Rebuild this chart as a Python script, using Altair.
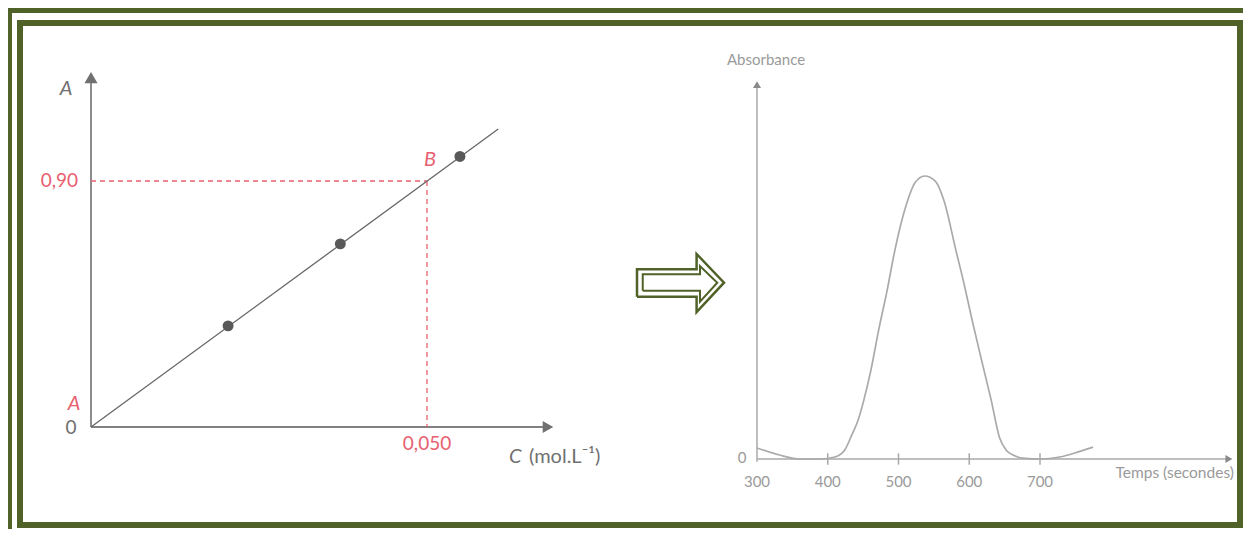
import altair as alt
import pandas as pd

# ---------------- data ----------------
# Left panel: calibration line A = f(C)
cal_C = [0.0204, 0.0371, 0.0549]
cal_A = [0.37, 0.67, 0.99]
line_C = [0.0, 0.0606]
line_A = [0.0, 1.09]
B_C = 0.050
B_A = 0.90
left_xmax = 0.068
left_ymax = 1.278

# Right panel: absorbance vs time (seconds)
t_vals = [300, 332, 361, 389, 410, 424, 434, 443, 451, 461, 472, 484, 495, 511, 523,
          537, 552, 564, 581, 593, 604, 618, 631, 643, 652, 662, 679, 700, 728, 754, 775]
abs_vals = [0.039, 0.014, 0.0, 0.0, 0.007, 0.032, 0.085, 0.138, 0.208, 0.314, 0.456,
            0.597, 0.739, 0.898, 0.975, 1.0, 0.982, 0.915, 0.739, 0.615, 0.491, 0.343,
            0.208, 0.074, 0.032, 0.014, 0.002, 0.0, 0.007, 0.025, 0.042]
right_ticks = [300, 400, 500, 600, 700]
right_xmax = 967
right_ymax = 1.323

# Middle arrow outline (normalised shape)
arrow_out_u = [0, 0.685, 0.685, 1.0, 0.685, 0.685, 0, 0]
arrow_out_v = [0.264, 0.264, 0.0, 0.505, 1.0, 0.736, 0.736, 0.264]
arrow_in_u = [0.066, 0.724, 0.724, 0.923, 0.724, 0.724, 0.066, 0.066]
arrow_in_v = [0.367, 0.367, 0.178, 0.505, 0.793, 0.65, 0.65, 0.367]

# ---------------- styling ----------------
GREEN = "#506228"
RED = "#e8606f"
GREY = "#707070"
LGREY = "#a8a8a8"
FONT = "Lato"

LX = alt.Scale(domain=[0, 0.05], range=[83, 419], nice=False, zero=False)
LY = alt.Scale(domain=[0, 0.9], range=[419, 173], nice=False, zero=False)
RX = alt.Scale(domain=[300, 700], range=[749, 1032], nice=False, zero=False)
RY = alt.Scale(domain=[0, 1], range=[451, 168], nice=False, zero=False)
AU = alt.Scale(domain=[0, 1], range=[629, 716], nice=False, zero=False)
AV = alt.Scale(domain=[0, 1], range=[304, 246], nice=False, zero=False)


def lx(f="C"):
    return alt.X(f, type="quantitative", scale=LX, axis=None)


def ly(f="A"):
    return alt.Y(f, type="quantitative", scale=LY, axis=None)


def rx(f="t"):
    return alt.X(f, type="quantitative", scale=RX, axis=None)


def ry(f="a"):
    return alt.Y(f, type="quantitative", scale=RY, axis=None)


one = pd.DataFrame({"k": [0]})

# ---------------- frame ----------------
outer_top = alt.Chart(one).mark_rect(color=GREEN).encode(
    x=alt.value(0), x2=alt.value(1235), y=alt.value(0), y2=alt.value(5))
outer_left = alt.Chart(one).mark_rect(color=GREEN).encode(
    x=alt.value(0), x2=alt.value(4), y=alt.value(0), y2=alt.value(521))
inner = alt.Chart(one).mark_rect(fillOpacity=0, stroke=GREEN, strokeWidth=6).encode(
    x=alt.value(12), x2=alt.value(1232), y=alt.value(15), y2=alt.value(517))

# ---------------- left panel ----------------
yaxis_l = alt.Chart(pd.DataFrame({"C": [0, 0], "A": [0, left_ymax]})).mark_line(
    color="#808080", strokeWidth=1.8).encode(x=lx(), y=ly())
xaxis_l = alt.Chart(pd.DataFrame({"C": [0, left_xmax], "A": [0, 0]})).mark_line(
    color="#808080", strokeWidth=1.8).encode(x=lx(), y=ly())
yarrow_l = alt.Chart(pd.DataFrame({"C": [0], "A": [left_ymax]})).mark_point(
    shape="triangle-up", filled=True, size=170, color=GREY, opacity=1).encode(x=lx(), y=ly())
xarrow_l = alt.Chart(pd.DataFrame({"C": [left_xmax], "A": [0]})).mark_point(
    shape="triangle-right", filled=True, size=150, color=GREY, opacity=1).encode(x=lx(), y=ly())

dash_h = alt.Chart(pd.DataFrame({"C": [0, B_C], "A": [B_A, B_A]})).mark_line(
    color=RED, strokeWidth=1.3, strokeDash=[5, 4]).encode(x=lx(), y=ly())
dash_v = alt.Chart(pd.DataFrame({"C": [B_C, B_C], "A": [B_A, 0]})).mark_line(
    color=RED, strokeWidth=1.3, strokeDash=[5, 4]).encode(x=lx(), y=ly())

cal_line = alt.Chart(pd.DataFrame({"C": line_C, "A": line_A})).mark_line(
    color="#666666", strokeWidth=1.3).encode(x=lx(), y=ly())
cal_pts = alt.Chart(pd.DataFrame({"C": cal_C, "A": cal_A})).mark_circle(
    size=120, color="#595959", opacity=1).encode(x=lx(), y=ly())

pt_df = pd.DataFrame({"C": [B_C], "A": [B_A]})
orig_df = pd.DataFrame({"C": [0.0], "A": [0.0]})
top_df = pd.DataFrame({"C": [0.0], "A": [left_ymax]})
xend_df = pd.DataFrame({"C": [left_xmax], "A": [0.0]})

t_090 = alt.Chart(pt_df).mark_text(text="0,90", align="right", baseline="middle",
                                   dx=-13, fontSize=19, font=FONT, color=RED).encode(
    x=alt.X(datum=0, type="quantitative", scale=LX, axis=None), y=ly())
t_0050 = alt.Chart(pt_df).mark_text(text="0,050", align="center", baseline="middle",
                                    dy=17, fontSize=19, font=FONT, color=RED).encode(
    x=lx(), y=alt.Y(datum=0, type="quantitative", scale=LY, axis=None))
t_B = alt.Chart(pt_df).mark_text(text="B", align="center", baseline="middle", dx=3, dy=-21,
                                 fontSize=20, font=FONT, fontStyle="italic", color=RED).encode(
    x=lx(), y=ly())
t_Ared = alt.Chart(orig_df).mark_text(text="A", align="center", baseline="middle", dx=-17, dy=-23,
                                      fontSize=20, font=FONT, fontStyle="italic", color=RED).encode(
    x=lx(), y=ly())
t_0 = alt.Chart(orig_df).mark_text(text="0", align="center", baseline="middle", dx=-20, dy=1,
                                   fontSize=19, font=FONT, color=GREY).encode(x=lx(), y=ly())
t_Atop = alt.Chart(top_df).mark_text(text="A", align="center", baseline="middle", dx=-25, dy=11,
                                     fontSize=20, font=FONT, fontStyle="italic", color=GREY).encode(
    x=lx(), y=ly())
t_C = alt.Chart(xend_df).mark_text(text="C", align="left", baseline="middle", dx=-39, dy=30,
                                   fontSize=20, font=FONT, fontStyle="italic", color=GREY).encode(
    x=lx(), y=ly())
t_unit = alt.Chart(xend_df).mark_text(text="(mol.L⁻¹)", align="left", baseline="middle", dx=-19, dy=30,
                                      fontSize=20, font=FONT, color=GREY).encode(x=lx(), y=ly())

# ---------------- middle arrow ----------------
arr_out = alt.Chart(pd.DataFrame({"u": arrow_out_u, "v": arrow_out_v,
                                  "i": list(range(len(arrow_out_u)))})).mark_line(
    color=GREEN, strokeWidth=2.5, strokeJoin="miter").encode(
    x=alt.X("u:Q", scale=AU, axis=None), y=alt.Y("v:Q", scale=AV, axis=None), order="i:Q")
arr_in = alt.Chart(pd.DataFrame({"u": arrow_in_u, "v": arrow_in_v,
                                 "i": list(range(len(arrow_in_u)))})).mark_line(
    color=GREEN, strokeWidth=2.0, strokeJoin="miter").encode(
    x=alt.X("u:Q", scale=AU, axis=None), y=alt.Y("v:Q", scale=AV, axis=None), order="i:Q")

# ---------------- right panel ----------------
yaxis_r = alt.Chart(pd.DataFrame({"t": [300, 300], "a": [-0.01, right_ymax]})).mark_line(
    color=LGREY, strokeWidth=1.5).encode(x=rx(), y=ry())
xaxis_r = alt.Chart(pd.DataFrame({"t": [300, right_xmax], "a": [0, 0]})).mark_line(
    color=LGREY, strokeWidth=1.5).encode(x=rx(), y=ry())
yarrow_r = alt.Chart(pd.DataFrame({"t": [300], "a": [right_ymax]})).mark_point(
    shape="triangle-up", filled=True, size=64, color="#8a8a8a", opacity=1).encode(x=rx(), y=ry())
xarrow_r = alt.Chart(pd.DataFrame({"t": [right_xmax], "a": [0]})).mark_point(
    shape="triangle-right", filled=True, size=64, color="#8a8a8a", opacity=1).encode(x=rx(), y=ry())

tick_df = pd.DataFrame({"t": right_ticks[1:]})
ticks_r = alt.Chart(tick_df).mark_rule(color=LGREY, strokeWidth=1.5).encode(
    x=rx(), y=alt.Y(datum=-0.02, type="quantitative", scale=RY, axis=None),
    y2=alt.Y2(datum=0.02))
lab_df = pd.DataFrame({"t": right_ticks, "lab": [str(v) for v in right_ticks]})
labels_r = alt.Chart(lab_df).mark_text(align="center", baseline="middle", dy=23,
                                       fontSize=15, font=FONT, color="#9a9a9a").encode(
    x=rx(), y=alt.Y(datum=0, type="quantitative", scale=RY, axis=None), text="lab:N")
zero_r = alt.Chart(pd.DataFrame({"t": [300], "a": [0]})).mark_text(
    text="0", align="center", baseline="middle", dx=-15, dy=-1,
    fontSize=15, font=FONT, color="#9a9a9a").encode(x=rx(), y=ry())
absorb = alt.Chart(pd.DataFrame({"t": [300], "a": [right_ymax]})).mark_text(
    text="Absorbance", align="center", baseline="middle", dx=9, dy=-25,
    fontSize=15, font=FONT, color="#9a9a9a").encode(x=rx(), y=ry())
temps = alt.Chart(pd.DataFrame({"t": [right_xmax], "a": [0]})).mark_text(
    text="Temps (secondes)", align="right", baseline="middle", dx=5, dy=14,
    fontSize=15.5, font=FONT, color="#9a9a9a").encode(x=rx(), y=ry())

curve = alt.Chart(pd.DataFrame({"t": t_vals, "a": abs_vals})).mark_line(
    color="#aaaaaa", strokeWidth=1.7, interpolate="monotone").encode(x=rx(), y=ry())

chart = alt.layer(
    outer_top, outer_left, inner,
    yaxis_l, xaxis_l, yarrow_l, xarrow_l, dash_h, dash_v, cal_line, cal_pts,
    t_090, t_0050, t_B, t_Ared, t_0, t_Atop, t_C, t_unit,
    arr_out, arr_in,
    yaxis_r, xaxis_r, yarrow_r, xarrow_r, ticks_r, labels_r, zero_r, absorb, temps, curve,
).resolve_scale(x="independent", y="independent").properties(
    width=1235, height=521, padding=0,
    autosize=alt.AutoSizeParams(type="none"),
    background="white",
).configure_view(strokeWidth=0)

chart.save("out.html", embed_options={"renderer": "svg", "actions": False})
